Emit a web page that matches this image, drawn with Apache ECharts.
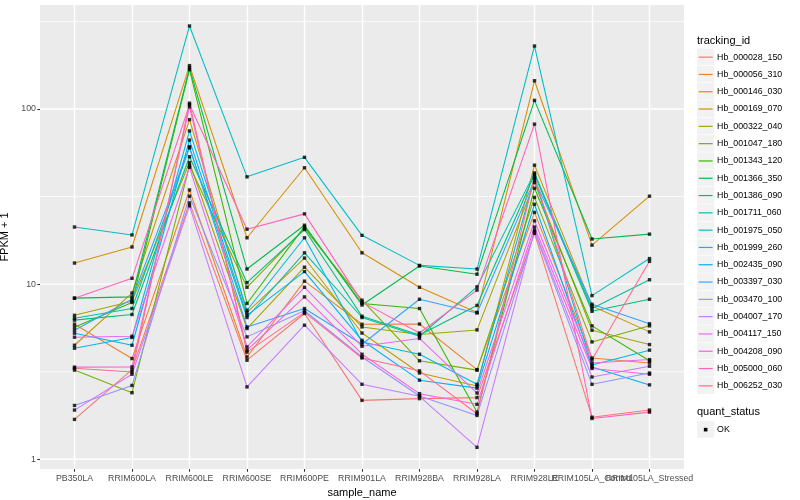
<!DOCTYPE html>
<html>
<head>
<meta charset="utf-8">
<script src="https://cdn.jsdelivr.net/npm/echarts@6/dist/echarts.min.js"></script>
<style>
html,body{margin:0;padding:0;background:#fff;}
#chart{width:800px;height:500px;}
</style>
</head>
<body>
<div id="chart"></div>
<script>
// ---- data (FPKM + 1) ----
const categories = ['PB350LA','RRIM600LA','RRIM600LE','RRIM600SE','RRIM600PE','RRIM901LA','RRIM928BA','RRIM928LA','RRIM928LE','RRIM105LA_Control','RRIM105LA_Stressed'];
const trackingIds = ['Hb_000028_150','Hb_000056_310','Hb_000146_030','Hb_000169_070','Hb_000322_040','Hb_001047_180','Hb_001343_120','Hb_001366_350','Hb_001386_090','Hb_001711_060','Hb_001975_050','Hb_001999_260','Hb_002435_090','Hb_003397_030','Hb_003470_100','Hb_004007_170','Hb_004117_150','Hb_004208_090','Hb_005000_060','Hb_006252_030'];

const hb_000028_150 = [1.69, 3.25, 29.1, 3.68, 6.8, 2.17, 2.22, 2.25, 19.5, 1.74, 1.91];
const hb_000056_310 = [5.91, 3.76, 34.5, 3.84, 10.4, 5.9, 5.92, 3.25, 25.7, 3.79, 3.55];
const hb_000146_030 = [13.2, 16.3, 177, 18.4, 46.2, 15.1, 9.6, 6.9, 145, 16.7, 31.8];
const hb_000169_070 = [4.48, 8.9, 87, 6.9, 14.1, 5.26, 3.11, 2.62, 47.8, 7.5, 5.34];
const hb_000322_040 = [6.64, 7.98, 49.5, 5.58, 12.5, 5.7, 5.16, 5.48, 38.0, 5.46, 4.52];
const hb_001047_180 = [3.23, 2.40, 47.5, 9.6, 20.8, 8.1, 3.65, 3.23, 31.3, 4.68, 5.78];
const hb_001343_120 = [5.68, 7.86, 168, 7.76, 21.3, 7.76, 7.26, 1.86, 35.3, 5.78, 3.65];
const hb_001366_350 = [8.32, 8.46, 172, 12.2, 21.7, 7.6, 12.7, 11.4, 112, 18.1, 19.3];
const hb_001386_090 = [6.23, 6.71, 53.4, 10.2, 20.5, 6.56, 5.12, 7.56, 42.3, 7.0, 8.2];
const hb_001711_060 = [6.39, 7.26, 60, 6.45, 15.1, 6.45, 5.04, 9.65, 43.2, 7.26, 10.6];
const hb_001975_050 = [21.2, 19.1, 298, 41, 53, 19.0, 12.8, 12.2, 229, 8.6, 14.0];
const hb_001999_260 = [4.31, 4.96, 75, 7.1, 18.4, 4.68, 3.98, 2.68, 40.4, 3.45, 4.2];
const hb_002435_090 = [5.25, 4.48, 66.5, 6.64, 11.8, 4.78, 2.83, 2.55, 28.6, 3.37, 2.66];
const hb_003397_030 = [5.46, 8.2, 61, 5.7, 7.26, 4.54, 8.2, 6.85, 39.4, 7.68, 5.94];
const hb_003470_100 = [2.03, 2.64, 31.8, 5.0, 7.05, 3.84, 2.30, 1.78, 19.9, 2.68, 3.11];
const hb_004007_170 = [1.91, 3.06, 28.0, 2.59, 5.83, 2.68, 2.29, 1.17, 20.3, 2.95, 3.4];
const hb_004117_150 = [4.98, 5.04, 46.5, 4.38, 9.6, 4.42, 4.9, 2.39, 23.0, 3.55, 3.71];
const hb_004208_090 = [3.36, 3.37, 103, 4.2, 8.46, 3.98, 2.37, 2.06, 21.2, 3.3, 3.06];
const hb_005000_060 = [8.32, 10.8, 106, 20.6, 25.2, 7.92, 5.26, 9.25, 82, 1.71, 1.86];
const hb_006252_030 = [3.31, 3.15, 108, 4.09, 6.9, 3.79, 3.2, 1.82, 41.1, 3.71, 13.5];

const yTickValues = [1, 10, 100];
const yTickLabels = ['1', '10', '100'];
const yMinorValues = [Math.sqrt(10), Math.sqrt(1000), Math.sqrt(100000)];
const statusLabels = ['OK'];

const seriesValues = [hb_000028_150, hb_000056_310, hb_000146_030, hb_000169_070, hb_000322_040, hb_001047_180, hb_001343_120, hb_001366_350, hb_001386_090, hb_001711_060, hb_001975_050, hb_001999_260, hb_002435_090, hb_003397_030, hb_003470_100, hb_004007_170, hb_004117_150, hb_004208_090, hb_005000_060, hb_006252_030];

// ---- styles ----
const colors = ['#F8766D','#EA8331','#D89000','#C09B00','#A3A500','#7CAE00','#39B600','#00BB4E','#00BF7D','#00C1A3','#00BFC4','#00BAE0','#00B0F6','#35A2FF','#9590FF','#C77CFF','#E76BF3','#FA62DB','#FF62BC','#FF6C91'];
const FONT = 'Liberation Sans, Arial, sans-serif';
const gridL = 40, gridR = 684, gridT = 5, gridB = 469;
const xMin = -0.6, xMax = 10.6;
const yMin = -0.0554, yMax = 2.594;
const majorW = 1.4, minorW = 0.75;

const chart = echarts.init(document.getElementById('chart'), null, {renderer: 'canvas'});

const lineSeries = seriesValues.map((vals, k) => ({
  type: 'line',
  name: trackingIds[k],
  data: vals.map((v, i) => [i, Math.log10(v)]),
  showSymbol: false,
  symbol: 'none',
  lineStyle: {color: colors[k], width: 1.07},
  itemStyle: {color: colors[k]},
  z: 3,
  silent: true
}));

const pointData = [];
seriesValues.forEach(vals => vals.forEach((v, i) => pointData.push([i, Math.log10(v)])));

// horizontal panel grid lines (major and minor), placed through the y scale
const gridLineSeries = yTickValues.map(v => ({v: v, w: majorW})).concat(yMinorValues.map(v => ({v: v, w: minorW}))).map(g => ({
  type: 'line',
  data: [[xMin, Math.log10(g.v)], [xMax, Math.log10(g.v)]],
  showSymbol: false, symbol: 'none', silent: true, z: 1,
  lineStyle: {color: '#FFFFFF', width: g.w},
  itemStyle: {color: '#FFFFFF'}
}));

const legendEls = [];
const lx = 697, keyW = 17.3, step = 17.3, firstKeyTop = 48.5;
legendEls.push({type: 'text', left: lx, top: 35, style: {text: 'tracking_id', font: '11px ' + FONT, fill: '#000'}});
trackingIds.forEach((id, k) => {
  const top = firstKeyTop + k * step;
  legendEls.push({type: 'rect', shape: {x: lx, y: top, width: keyW, height: keyW - 0.6}, style: {fill: '#F2F2F2'}});
  legendEls.push({type: 'line', shape: {x1: lx + 1.7, y1: top + keyW / 2, x2: lx + keyW - 1.7, y2: top + keyW / 2}, style: {stroke: colors[k], lineWidth: 1.2}});
  legendEls.push({type: 'text', x: lx + keyW + 2.8, y: top + keyW / 2, style: {text: id, font: '8.8px ' + FONT, fill: '#000', textVerticalAlign: 'middle', verticalAlign: 'middle'}});
});
legendEls.push({type: 'text', left: lx, top: 406, style: {text: 'quant_status', font: '11px ' + FONT, fill: '#000'}});
statusLabels.forEach((s, k) => {
  const top = 421 + k * step;
  legendEls.push({type: 'rect', shape: {x: lx, y: top, width: keyW, height: keyW - 0.6}, style: {fill: '#F2F2F2'}});
  legendEls.push({type: 'rect', shape: {x: lx + keyW / 2 - 1.8, y: top + keyW / 2 - 1.8, width: 3.6, height: 3.6}, style: {fill: '#000'}});
  legendEls.push({type: 'text', x: lx + keyW + 2.8, y: top + keyW / 2, style: {text: s, font: '8.8px ' + FONT, fill: '#000', textVerticalAlign: 'middle', verticalAlign: 'middle'}});
});

// label groups for the two x-axes (split so that overlapping labels are both kept)
const xIdxMain = categories.map((c, i) => i).filter(i => i !== 9);
const xIdxExtra = [9];

const xLabelStyle = {formatter: v => categories[Math.round(v)], color: '#4D4D4D', fontSize: 8.8, margin: 5, hideOverlap: false, fontFamily: FONT};

const option = {
  animation: false,
  backgroundColor: '#ffffff',
  textStyle: {fontFamily: FONT},
  grid: {left: gridL, top: gridT, width: gridR - gridL, height: gridB - gridT, show: true, backgroundColor: '#EBEBEB', borderWidth: 0, containLabel: false, outerBoundsMode: 'none'},
  xAxis: [{
    type: 'value', min: xMin, max: xMax, position: 'bottom',
    axisLine: {show: false, onZero: false},
    axisTick: {show: true, customValues: categories.map((c, i) => i), length: 2.75, lineStyle: {color: '#333333', width: 1.07}},
    axisLabel: Object.assign({customValues: xIdxMain}, xLabelStyle),
    splitLine: {show: true, lineStyle: {color: '#FFFFFF', width: majorW}},
    name: 'sample_name', nameLocation: 'middle', nameGap: 13.5,
    nameTextStyle: {fontSize: 11, color: '#000', fontFamily: FONT}
  }, {
    type: 'value', min: xMin, max: xMax, position: 'bottom', offset: 0,
    axisLine: {show: false, onZero: false},
    axisTick: {show: false, customValues: xIdxExtra},
    axisLabel: Object.assign({customValues: xIdxExtra}, xLabelStyle),
    splitLine: {show: false}
  }],
  yAxis: [{
    type: 'value', min: yMin, max: yMax, position: 'left',
    axisLine: {show: false, onZero: false},
    axisTick: {show: true, customValues: yTickValues.map(v => Math.log10(v)), length: 2.75, lineStyle: {color: '#333333', width: 1.07}},
    axisLabel: {customValues: yTickValues.map(v => Math.log10(v)), formatter: v => yTickLabels[yTickValues.findIndex(t => Math.abs(Math.log10(t) - v) < 1e-6)], color: '#4D4D4D', fontSize: 8.8, margin: 4, fontFamily: FONT},
    splitLine: {show: false},
    name: 'FPKM + 1', nameLocation: 'middle', nameGap: 23,
    nameTextStyle: {fontSize: 11, color: '#000', fontFamily: FONT}
  }],
  series: gridLineSeries.concat(lineSeries).concat([{
    type: 'scatter',
    name: 'OK',
    data: pointData,
    symbol: 'rect',
    symbolSize: 3.4,
    itemStyle: {color: '#000000'},
    z: 5,
    silent: true
  }]),
  graphic: legendEls
};
chart.setOption(option);
</script>
</body>
</html>
